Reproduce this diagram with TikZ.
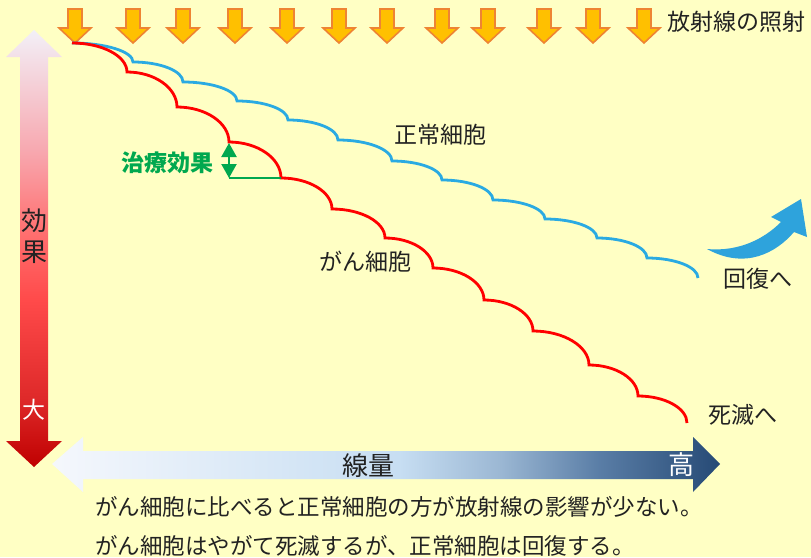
\documentclass[tikz,border=0pt]{standalone}
\usepackage{fontspec}
\setmainfont{Noto Sans CJK JP}
\usetikzlibrary{arrows.meta}
\definecolor{bg}{HTML}{FFFFC4}
\definecolor{txt}{HTML}{222222}
\definecolor{orfill}{HTML}{FFC000}
\definecolor{ordraw}{HTML}{EE8433}
\definecolor{normalblue}{HTML}{2AAAE2}
\definecolor{cancerred}{HTML}{FF0000}
\definecolor{effgreen}{HTML}{00A84F}
\definecolor{recblue}{HTML}{2EA3DC}
\pgfdeclareverticalshading{effectshade}{100bp}{rgb(0bp)=(0.75,0,0); rgb(25bp)=(0.75,0,0); rgb(32.65bp)=(0.87,0.16,0.16); rgb(44.1bp)=(1,0.29,0.29); rgb(52bp)=(1,0.44,0.44); rgb(61.25bp)=(0.97,0.66,0.69); rgb(75bp)=(0.95,0.94,0.97); rgb(100bp)=(0.95,0.94,0.97)}
\pgfdeclarehorizontalshading{doseshade}{100bp}{rgb(0bp)=(0.96,0.97,0.99); rgb(25bp)=(0.96,0.97,0.99); rgb(51bp)=(0.78,0.87,0.95); rgb(58.5bp)=(0.61,0.72,0.83); rgb(66bp)=(0.35,0.49,0.65); rgb(75bp)=(0.15,0.29,0.46); rgb(100bp)=(0.15,0.29,0.46)}
\tikzset{
  lbl/.style={font=\fontsize{23}{27}\selectfont, text=txt, inner sep=0pt},
  bodytext/.style={font=\fontsize{22.5}{26}\selectfont, text=txt, inner sep=0pt, anchor=west},
  orangearrow/.style={fill=orfill, draw=ordraw, line width=1.6pt, line join=miter},
  bluecurve/.style={draw=normalblue, line width=2.8pt, line join=miter},
  redcurve/.style={draw=cancerred, line width=2.8pt, line join=miter},
  greenline/.style={draw=effgreen, line width=2.2pt},
  radarrow/.pic={\path[orangearrow] (-7,9) -- (7,9) -- (7,28) -- (16,28) -- (0,43) -- (-16,28) -- (-7,28) -- cycle;}
}
\begin{document}
\begin{tikzpicture}[x=1pt,y=-1pt]
\useasboundingbox (0,0) rectangle (811,557);
\fill[bg] (0,0) rectangle (811,557);

% radiation arrows
\foreach \px in {75,133,183,235,287,339,387,442,488,544,593,644}
  \pic at (\px,0) {radarrow};
\node[lbl] (irr) at (736,22) {放射線の照射};

% effect axis (vertical double arrow)
\shade[shading=effectshade] (34,30) -- (62,57) -- (48,57) -- (48,441) -- (62,441) -- (34,467) -- (6,441) -- (20,441) -- (20,57) -- (6,57) -- cycle;
\node[lbl, font=\fontsize{26}{30}\selectfont] (eff1) at (34,221) {効};
\node[lbl, font=\fontsize{26}{30}\selectfont] (eff2) at (34,252) {果};
\node[lbl, text=white] (big) at (34,410) {大};

% dose axis (horizontal double arrow)
\shade[shading=doseshade] (52,464) -- (83,437) -- (83,451) -- (693,451) -- (693,437) -- (720,464) -- (693,492) -- (693,479) -- (83,479) -- (83,492) -- cycle;
\node[lbl, font=\fontsize{26}{30}\selectfont] (dose) at (368,466) {線量};
\node[lbl, font=\fontsize{26}{30}\selectfont, text=white] (high) at (681,465) {高};

% normal cell curve
\draw[bluecurve] (72,43) \foreach \xa/\ya/\xb/\yb in {72/43/133/62, 133/62/183/82, 183/82/237/101, 237/101/288/120, 288/120/338/140, 338/140/392/161, 392/161/442/180, 442/180/493/200, 493/200/545/219, 545/219/597/238, 597/238/647/258, 647/258/698/278}
  { .. controls ({\xa+0.55*(\xb-\xa)},\ya) and (\xb,{\yb-0.55*(\yb-\ya)}) .. (\xb,\yb) };

% cancer cell curve
\draw[redcurve] (72,43) \foreach \xa/\ya/\xb/\yb in {72/43/127/72, 127/72/177/107, 177/107/229/142, 229/142/281/178, 281/178/332/209, 332/209/385/238, 385/238/433/268, 433/268/484/300, 484/300/533/331, 533/331/589/365, 589/365/638/396, 638/396/687/423}
  { .. controls ({\xa+0.55*(\xb-\xa)},\ya) and (\xb,{\yb-0.55*(\yb-\ya)}) .. (\xb,\yb) };

\node[lbl] (normal) at (440,135) {正常細胞};
\node[lbl] (cancer) at (365,262) {がん細胞};
\node[lbl] (recover) at (758,279) {回復へ};
\node[lbl] (death) at (743,415) {死滅へ};

% therapeutic effect
\coordinate (gtop) at (229,143);
\coordinate (gbot) at (229,178);
\coordinate (gend) at (281,178);
\draw[greenline, {Triangle[width=15pt,length=14pt]}-{Triangle[width=15pt,length=14pt]}] (gbot) -- (gtop);
\draw[greenline] (gbot) -- (gend);
\node[lbl, text=effgreen, font=\bfseries\fontsize{23}{27}\selectfont] (therapy) at (167,163) {治療効果};

% recovery curved arrow
\fill[recblue] (707,249) .. controls (740,252) and (765,238) .. (781,222) -- (771,217) -- (801,199) -- (807,237) -- (794,232) .. controls (776,253) and (745,270) .. (707,249) -- cycle;

% explanation
\node[bodytext] (line1) at (95,507) {がん細胞に比べると正常細胞の方が放射線の影響が少ない。};
\node[bodytext] (line2) at (95,546) {がん細胞はやがて死滅するが、正常細胞は回復する。};
\end{tikzpicture}
\end{document}
